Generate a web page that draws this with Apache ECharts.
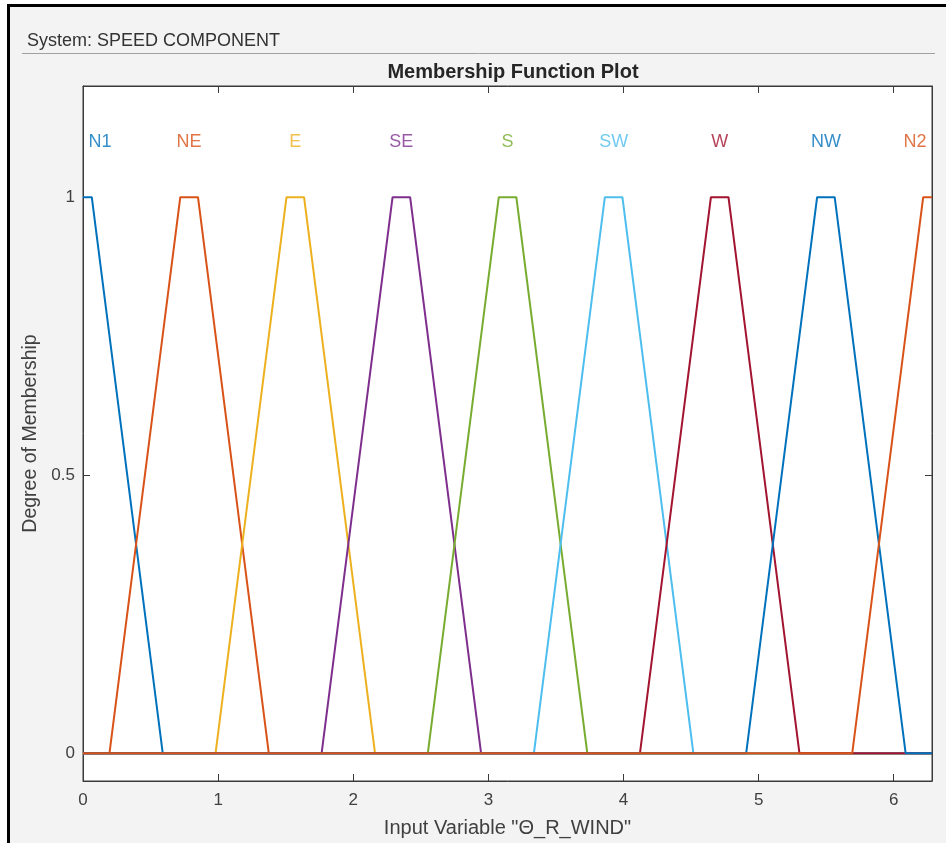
<!DOCTYPE html>
<html>
<head>
<meta charset="utf-8">
<title>Membership Function Plot</title>
<script src="https://cdn.jsdelivr.net/npm/echarts@6/dist/echarts.min.js"></script>
<style>
  html, body { margin: 0; padding: 0; background: #ffffff; }
  #chart { width: 946px; height: 843px; }
</style>
</head>
<body>
<div id="chart"></div>
<script>
// Input variable range (radians)
const xMin = 0;
const xMax = 2 * Math.PI;

// Membership function names
const mfNames = ['N1', 'NE', 'E', 'SE', 'S', 'SW', 'W', 'NW', 'N2'];

// Trapezoid parameters [a, b, c, d] for each function
const mfN1 = [-0.590, -0.065, 0.065, 0.590];
const mfNE = [0.196, 0.720, 0.851, 1.375];
const mfE  = [0.981, 1.506, 1.636, 2.161];
const mfSE = [1.766, 2.291, 2.421, 2.946];
const mfS  = [2.552, 3.077, 3.207, 3.732];
const mfSW = [3.337, 3.862, 3.992, 4.517];
const mfW  = [4.122, 4.647, 4.777, 5.302];
const mfNW = [4.908, 5.433, 5.563, 6.088];
const mfN2 = [5.693, 6.218, 6.348, 6.873];
const mfParams = [mfN1, mfNE, mfE, mfSE, mfS, mfSW, mfW, mfNW, mfN2];

// Where each function's name is written along the x axis
const labelX = [0.126, 0.785, 1.571, 2.356, 3.142, 3.927, 4.712, 5.498, 6.158];
const labelY = 1.1;

// Tick values
const xTicks = [0, 1, 2, 3, 4, 5, 6];
const yTicks = [0, 0.5, 1];

// Line colours, one per function
const palette = ['#0072BD', '#D95319', '#EDB120', '#7E2F8E', '#77AC30',
                 '#4DBEEE', '#A2142F', '#0072BD', '#D95319'];

function trapmf(x, p) {
  const [a, b, c, d] = p;
  if (x <= a || x >= d) return 0;
  if (x >= b && x <= c) return 1;
  if (x < b) return (x - a) / (b - a);
  return (d - x) / (d - c);
}

// Breakpoints of a trapezoid, clipped to the input range
function mfPoints(p) {
  const xs = [xMin, xMax].concat(p.filter(v => v > xMin && v < xMax));
  xs.sort((u, v) => u - v);
  return xs.map(x => [x, trapmf(x, p)]);
}

const axisColor = '#3a3a3a';
const textColor = '#404040';
const fontFamily = '"Liberation Sans", Arial, Helvetica, sans-serif';

const lineSeries = mfNames.map((name, i) => ({
  name: name,
  type: 'line',
  data: mfPoints(mfParams[i]),
  showSymbol: false,
  symbol: 'none',
  lineStyle: { color: palette[i], width: 2 },
  itemStyle: { color: palette[i] },
  silent: true,
  clip: true
}));

const labelSeries = {
  type: 'scatter',
  symbolSize: 0,
  silent: true,
  data: mfNames.map((name, i) => ({
    value: [labelX[i], labelY],
    name: name,
    label: {
      show: true,
      position: 'inside',
      formatter: name,
      color: palette[i],
      fontSize: 18,
      fontFamily: fontFamily
    }
  }))
};

const chart = echarts.init(document.getElementById('chart'), null, { renderer: 'canvas' });

const xCommon = {
  type: 'value',
  min: xMin,
  max: xMax,
  splitLine: { show: false },
  axisLine: { show: true, onZero: false, lineStyle: { color: axisColor, width: 1 } }
};
const yCommon = {
  type: 'value',
  min: -0.05,
  max: 1.2,
  splitLine: { show: false },
  axisLine: { show: true, onZero: false, lineStyle: { color: axisColor, width: 1 } }
};

chart.setOption({
  animation: false,
  backgroundColor: '#f3f3f3',
  title: {
    text: 'Membership Function Plot',
    left: 508,
    textAlign: 'center',
    top: 57,
    textStyle: { fontSize: 20, fontWeight: 'bold', color: '#262626', fontFamily: fontFamily }
  },
  grid: {
    left: 83, right: 14, top: 86, bottom: 62,
    show: true,
    backgroundColor: '#ffffff',
    borderColor: axisColor,
    borderWidth: 1
  },
  xAxis: [
    Object.assign({}, xCommon, {
      position: 'bottom',
      name: 'Input Variable "Θ_R_WIND"',
      nameLocation: 'middle',
      nameGap: 37,
      nameTextStyle: { fontSize: 20, color: textColor, fontFamily: fontFamily },
      axisTick: { show: true, inside: true, length: 7, customValues: xTicks, lineStyle: { color: axisColor } },
      axisLabel: { show: true, customValues: xTicks, margin: 11, fontSize: 17, color: textColor, fontFamily: fontFamily }
    }),
    Object.assign({}, xCommon, {
      position: 'top',
      axisTick: { show: true, inside: true, length: 7, customValues: xTicks, lineStyle: { color: axisColor } },
      axisLabel: { show: false }
    })
  ],
  yAxis: [
    Object.assign({}, yCommon, {
      position: 'left',
      name: 'Degree of Membership',
      nameLocation: 'middle',
      nameGap: 40,
      nameRotate: 90,
      nameTextStyle: { fontSize: 19.5, color: textColor, fontFamily: fontFamily },
      axisTick: { show: true, inside: true, length: 7, customValues: yTicks, lineStyle: { color: axisColor } },
      axisLabel: { show: true, customValues: yTicks, margin: 8, fontSize: 17, color: textColor, fontFamily: fontFamily }
    }),
    Object.assign({}, yCommon, {
      position: 'right',
      axisTick: { show: true, inside: true, length: 7, customValues: yTicks, lineStyle: { color: axisColor } },
      axisLabel: { show: false }
    })
  ],
  graphic: [
    // window frame
    { type: 'rect', shape: { x: 0, y: 0, width: 946, height: 5 }, style: { fill: '#ffffff' }, silent: true },
    { type: 'rect', shape: { x: 0, y: 0, width: 7, height: 843 }, style: { fill: '#ffffff' }, silent: true },
    { type: 'rect', shape: { x: 7, y: 4, width: 939, height: 3 }, style: { fill: '#000000' }, silent: true },
    { type: 'rect', shape: { x: 7, y: 4, width: 3, height: 839 }, style: { fill: '#000000' }, silent: true },
    // header
    {
      type: 'text', left: 27, top: 32,
      style: { text: 'System: SPEED COMPONENT', fontSize: 18, fill: '#333333', fontFamily: fontFamily },
      silent: true
    },
    {
      type: 'line', shape: { x1: 22, y1: 53.5, x2: 935, y2: 53.5 },
      style: { stroke: '#a0a0a0', lineWidth: 1 }, silent: true
    }
  ],
  series: lineSeries.concat([labelSeries])
});
</script>
</body>
</html>
